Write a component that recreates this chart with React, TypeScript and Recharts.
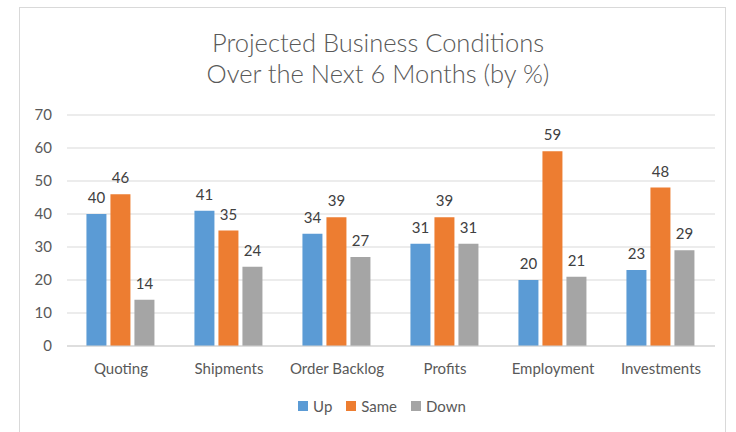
import React from "react";
import { BarChart, Bar, XAxis, YAxis, CartesianGrid, Legend, LabelList } from "recharts";

const categories = ["Quoting", "Shipments", "Order Backlog", "Profits", "Employment", "Investments"];
const upValues = [40, 41, 34, 31, 20, 23];
const sameValues = [46, 35, 39, 39, 59, 48];
const downValues = [14, 24, 27, 31, 21, 29];
const yTicks = [0, 10, 20, 30, 40, 50, 60, 70];
const seriesNames = ["Up", "Same", "Down"];
const seriesColors = ["#5B9BD5", "#ED7D31", "#A5A5A5"];
const titleLines = ["Projected Business Conditions", "Over the Next 6 Months (by %)"];

const data = categories.map((c, i) => ({ name: c, Up: upValues[i], Same: sameValues[i], Down: downValues[i] }));

const FONT = "Lato, 'Open Sans', sans-serif";

const renderLegend = (props: any) => {
  const payload = [...(props.payload || [])].sort(
    (a: any, b: any) => seriesNames.indexOf(String(a.dataKey)) - seriesNames.indexOf(String(b.dataKey))
  );
  return (
    <div style={{ display: "flex", justifyContent: "center", alignItems: "center", fontFamily: FONT, fontSize: 15, color: "#595959" }}>
      {payload.map((p: any) => (
        <div key={String(p.dataKey)} style={{ display: "flex", alignItems: "center", margin: "0 7px" }}>
          <span style={{ display: "inline-block", width: 10, height: 10, background: p.color, marginRight: 5 }} />
          <span>{p.value}</span>
        </div>
      ))}
    </div>
  );
};

export default function App() {
  return (
    <div style={{ position: "absolute", left: 0, top: 0, width: 736, height: 432, background: "#fff", fontFamily: FONT }}>
      <div style={{ position: "absolute", left: 19, top: 7, width: 707, height: 430, border: "1px solid #d9d9d9", boxSizing: "border-box" }} />
      <div style={{ position: "absolute", left: 19, top: 27, width: 718, textAlign: "center", color: "#595959", fontSize: 25.5, fontWeight: 300, lineHeight: "31px" }}>
        {titleLines.map((t) => (
          <div key={t}>{t}</div>
        ))}
      </div>
      <div style={{ position: "absolute", left: 0, top: 0 }}>
        <BarChart width={736} height={432} data={data} margin={{ top: 115, right: 21, bottom: 30, left: 0 }} barCategoryGap="18%" barGap={4}>
          <CartesianGrid vertical={false} stroke="#d9d9d9" />
          <XAxis dataKey="name" axisLine={{ stroke: "#d0d0d0" }} tickLine={false} height={36} tick={{ fill: "#595959", fontSize: 15, fontFamily: FONT }} tickMargin={11} interval={0} />
          <YAxis domain={[0, 70]} ticks={yTicks} width={67} axisLine={false} tickLine={false} tick={{ fill: "#595959", fontSize: 15, fontFamily: FONT }} tickMargin={9} />
          <Legend
            verticalAlign="bottom"
            height={20}
            content={renderLegend}
            wrapperStyle={{ top: 397, left: 28, width: 708 }}
          />
          <Bar dataKey="Up" name={seriesNames[0]} fill={seriesColors[0]} isAnimationActive={false}>
            <LabelList dataKey="Up" position="top" offset={11} fill="#404040" fontSize={15} fontFamily={FONT} />
          </Bar>
          <Bar dataKey="Same" name={seriesNames[1]} fill={seriesColors[1]} isAnimationActive={false}>
            <LabelList dataKey="Same" position="top" offset={11} fill="#404040" fontSize={15} fontFamily={FONT} />
          </Bar>
          <Bar dataKey="Down" name={seriesNames[2]} fill={seriesColors[2]} isAnimationActive={false}>
            <LabelList dataKey="Down" position="top" offset={11} fill="#404040" fontSize={15} fontFamily={FONT} />
          </Bar>
        </BarChart>
      </div>
    </div>
  );
}
